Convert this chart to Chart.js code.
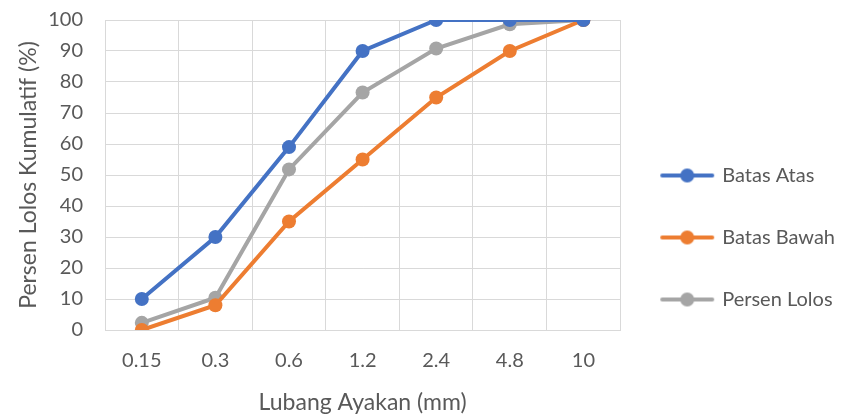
<!DOCTYPE html>
<html>
<head>
<meta charset="utf-8">
<script src="https://cdn.jsdelivr.net/npm/chart.js@4/dist/chart.umd.min.js"></script>
<style>
  html, body { margin: 0; padding: 0; background: #fff; }
  #wrap { width: 845px; height: 416px; }
</style>
</head>
<body>
<div id="wrap"><canvas id="grafik"></canvas></div>
<script>
// ukuran lubang ayakan (mm)
const lubangAyakan = ['0.15', '0.3', '0.6', '1.2', '2.4', '4.8', '10'];
const batasAtas = [10, 30, 59, 90, 100, 100, 100];
const batasBawah = [0, 8, 35, 55, 75, 90, 100];
const persenLolos = [2.3, 10.4, 51.8, 76.6, 90.8, 98.6, 100];

const warna = ['#4472C4', '#ED7D31', '#A5A5A5'];
const fontTeks = 'Lato, "Open Sans", sans-serif';

// ikon legenda: garis dengan titik di tengah
function ikonLegenda(c) {
    let cv = document.createElement('canvas');
    cv.width = 56;
    cv.height = 16;
    let ctx = cv.getContext('2d');
    ctx.strokeStyle = c;
    ctx.lineWidth = 4;
    ctx.lineCap = 'round';
    ctx.beginPath();
    ctx.moveTo(3, 8);
    ctx.lineTo(53, 8);
    ctx.stroke();
    ctx.fillStyle = c;
    ctx.beginPath();
    ctx.arc(28, 8, 7, 0, Math.PI * 2);
    ctx.fill();
    return cv;
}

function seri(label, data, c) {
    return {
        label: label,
        data: data,
        borderColor: c,
        backgroundColor: c,
        borderWidth: 4,
        pointRadius: 7,
        pointHoverRadius: 7,
        pointBorderWidth: 0,
        pointStyle: 'circle',
        tension: 0
    };
}

new Chart(document.getElementById('grafik'), {
    type: 'line',
    data: {
        labels: lubangAyakan,
        datasets: [
            seri('Batas Atas', batasAtas, warna[0]),
            seri('Batas Bawah', batasBawah, warna[1]),
            seri('Persen Lolos', persenLolos, warna[2])
        ]
    },
    options: {
        responsive: true,
        maintainAspectRatio: false,
        animation: false,
        layout: { padding: { top: 20, right: 0, bottom: 0, left: 11 } },
        plugins: {
            tooltip: { enabled: false },
            legend: {
                position: 'right',
                align: 'center',
                maxWidth: 300,
                // judul kosong untuk menggeser legenda ke bawah
                title: { display: true, text: ' ', font: { size: 10 }, padding: { top: 14, bottom: 13 } },
                labels: {
                    usePointStyle: true,
                    pointStyleWidth: 50,
                    color: '#595959',
                    font: { family: fontTeks, size: 20 },
                    padding: 42,
                    generateLabels: function (chart) {
                        return chart.data.datasets.map(function (ds, i) {
                            return {
                                text: ds.label,
                                fillStyle: ds.borderColor,
                                strokeStyle: ds.borderColor,
                                fontColor: '#595959',
                                pointStyle: ikonLegenda(ds.borderColor),
                                hidden: false,
                                datasetIndex: i
                            };
                        });
                    }
                }
            }
        },
        scales: {
            x: {
                offset: true,
                grid: { color: '#d9d9d9', lineWidth: 1, offset: true, drawTicks: false },
                border: { color: '#d9d9d9' },
                ticks: { color: '#595959', font: { family: fontTeks, size: 20 }, padding: 19, maxRotation: 0 },
                title: {
                    display: true,
                    text: 'Lubang Ayakan (mm)',
                    color: '#595959',
                    font: { family: fontTeks, size: 23 },
                    padding: { top: 13, bottom: 0 }
                },
                // tinggi sumbu x dikunci agar area plot berakhir di y=330
                afterFit: function (scale) {
                    scale.height = 86;
                }
            },
            y: {
                min: 0,
                max: 100,
                ticks: { stepSize: 10, color: '#595959', font: { family: fontTeks, size: 20 }, padding: 22 },
                grid: { color: '#d9d9d9', lineWidth: 1, drawTicks: false },
                border: { color: '#d9d9d9' },
                title: {
                    display: true,
                    text: 'Persen Lolos Kumulatif (%)',
                    color: '#595959',
                    font: { family: fontTeks, size: 23 },
                    padding: { bottom: 4 }
                },
                // area plot mulai di y=20 dan x=105
                afterFit: function (scale) {
                    scale.width = 94;
                    scale.paddingTop = 0;
                    scale.paddingBottom = 0;
                }
            }
        }
    }
});
</script>
</body>
</html>
